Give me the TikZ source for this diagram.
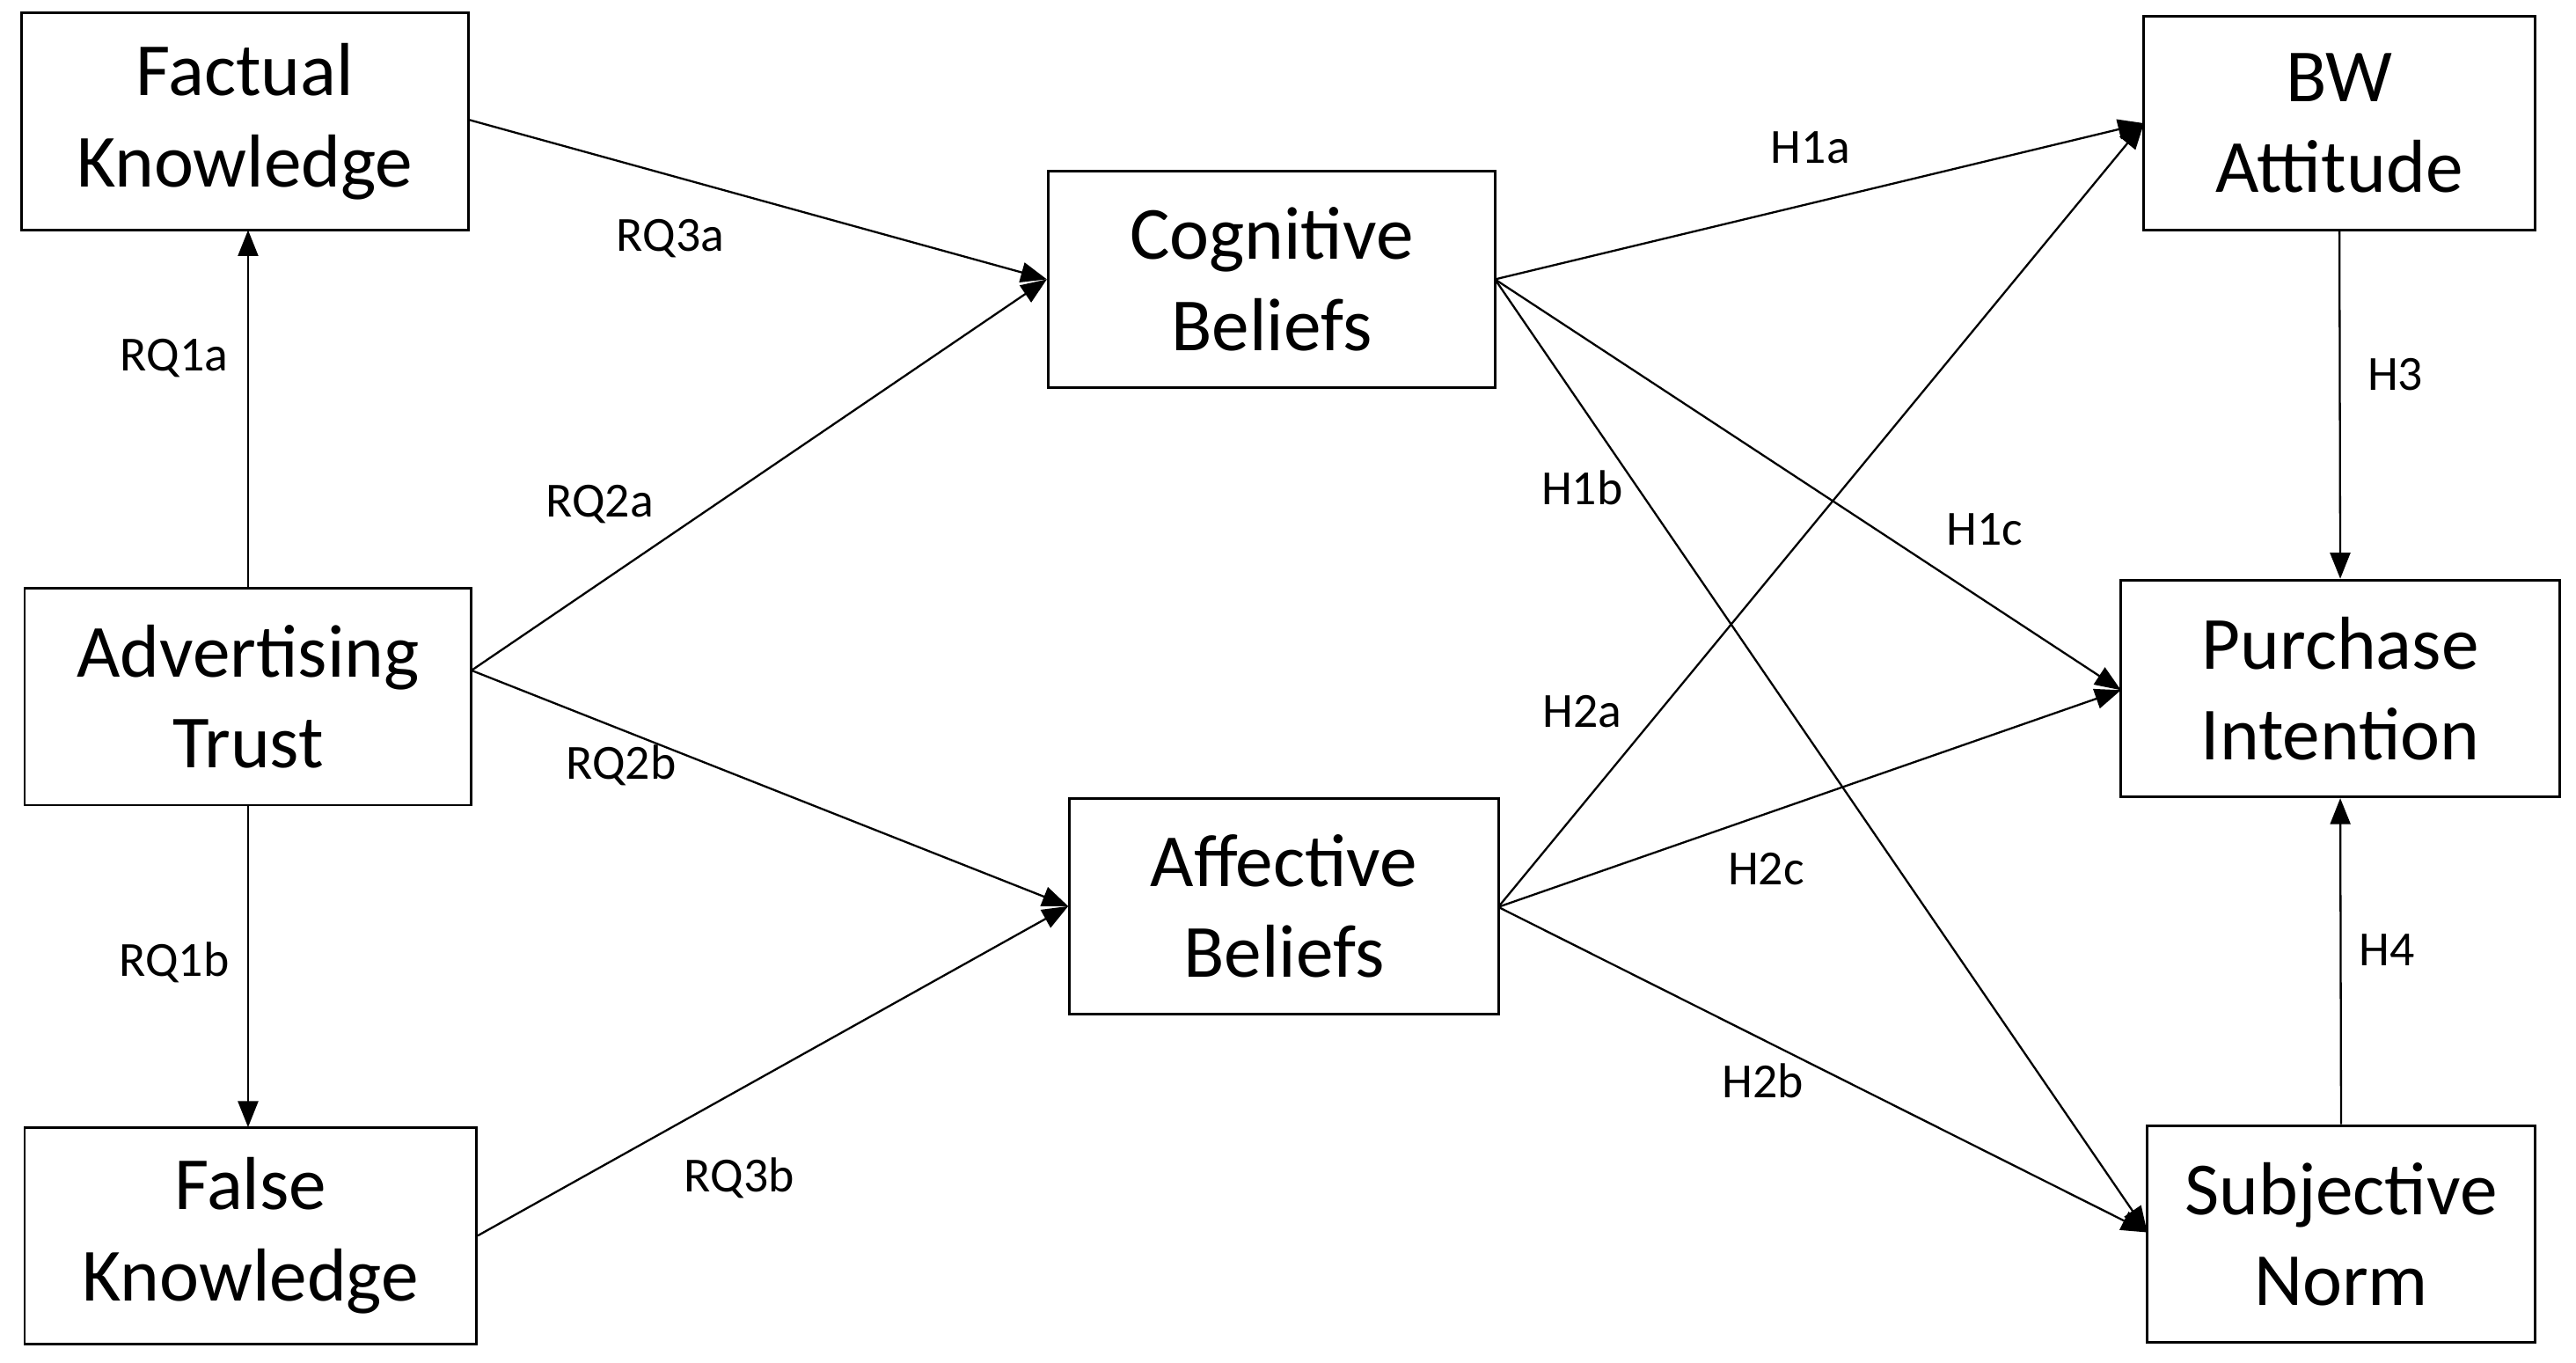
\documentclass[tikz,border=0pt]{standalone}
\usepackage{fontspec}
\setmainfont{Carlito}
\usetikzlibrary{arrows.meta}
\begin{document}
\begin{tikzpicture}[x=0.02cm,y=-0.02cm,
  box/.style={draw,line width=0.9pt,align=center,font=\fontsize{26}{31.5}\selectfont},
  arr/.style={line width=0.7pt,-{Triangle[length=9pt,width=7pt]}},
  lab/.style={font=\fontsize{17}{20}\selectfont}]
\useasboundingbox (0,0) rectangle (1568,829);
\newcommand{\bx}[6]{\node[box,minimum width=#4*0.02cm-#2*0.02cm,minimum height=#5*0.02cm-#3*0.02cm] (#1) at ({(#2+#4)/2},{(#3+#5)/2}) {#6};}
\bx{FK}{13}{8}{285}{140}{Factual\\Knowledge}
\bx{AT}{15}{358}{287}{490}{Advertising\\Trust}
\bx{FL}{15}{686}{290}{818}{False\\Knowledge}
\bx{CB}{638}{104}{910}{236}{Cognitive\\Beliefs}
\bx{AB}{651}{486}{912}{617}{Affective\\Beliefs}
\bx{BW}{1305}{10}{1543}{140}{BW\\Attitude}
\bx{PI}{1291}{353}{1558}{485}{Purchase\\Intention}
\bx{SN}{1307}{685}{1543}{817}{Subjective\\Norm}
\draw[arr] (FK.east|-0,73) -- (CB.west);
\draw[arr] (151,358) -- (151,140);
\draw[arr] (151,490) -- (151,686);
\coordinate (ato) at (287,408);
\draw[arr] (ato) -- (CB.west);
\draw[arr] (ato) -- (AB.west);
\draw[arr] (FL.east) -- (AB.west);
\coordinate (cbo) at (910,170);
\coordinate (abo) at (912,552);
\coordinate (bwi) at (1305,75);
\coordinate (pii) at (1291,420);
\coordinate (sni) at (1307,750);
\foreach \s in {cbo,abo}{\foreach \t in {bwi,pii,sni}{\draw[arr] (\s) -- (\t);}}
\draw[arr] (BW.south) -- (PI.south|-PI.north);
\draw[arr] (SN.north) -- (PI.north|-PI.south);
\node[lab] at (408,145) {RQ3a};
\node[lab] at (106,218) {RQ1a};
\node[lab] at (365,307) {RQ2a};
\node[lab] at (378,466) {RQ2b};
\node[lab] at (106,586) {RQ1b};
\node[lab] at (450,717) {RQ3b};
\node[lab] at (1102,90) {H1a};
\node[lab] at (963,297) {H1b};
\node[lab] at (1208,322) {H1c};
\node[lab] at (963,433) {H2a};
\node[lab] at (1075,529) {H2c};
\node[lab] at (1073,658) {H2b};
\node[lab] at (1458,228) {H3};
\node[lab] at (1453,578) {H4};
\end{tikzpicture}
\end{document}
